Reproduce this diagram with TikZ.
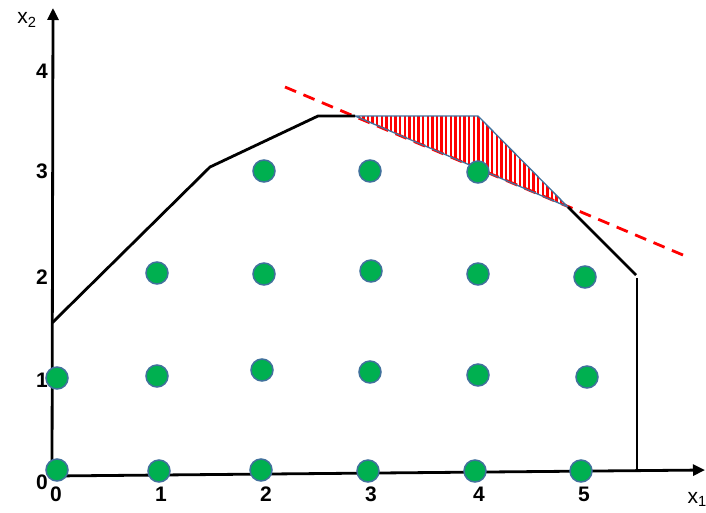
\documentclass[tikz,border=0pt]{standalone}
\usepackage{fontspec}
\setmainfont{Liberation Sans}
\usetikzlibrary{arrows.meta, patterns.meta}
\definecolor{dotgreen}{RGB}{0,176,80}
\definecolor{dotrim}{RGB}{65,113,156}

\begin{document}
\begin{tikzpicture}[
  x=1pt, y=-1pt,
  every node/.style={font=\fontsize{21}{23}\selectfont\bfseries},
  axis/.style={line width=2.8pt, -{Triangle[length=12pt, width=11pt]}},
  border/.style={line width=2.8pt, line join=round},
  cut/.style={red, line width=2.8pt, dash pattern=on 12pt off 8pt},
  hatch/.style={pattern={Lines[angle=90, distance=4.6pt, line width=2.3pt]}, pattern color=red},
  rim/.style={draw=dotrim, line width=1.3pt},
  dot/.style={circle, fill=dotgreen, draw=dotrim, line width=1.5pt, minimum size=22pt, inner sep=0pt},
  axlabel/.style={font=\fontsize{21}{23}\selectfont}
]
\useasboundingbox (0,0) rectangle (706,512);

\coordinate (O) at (52,476);
\coordinate (xend) at (705,470);
\coordinate (yend) at (53,8);
\coordinate (v1) at (52,323);
\coordinate (v2) at (210,167);
\coordinate (v3) at (318,116);
\coordinate (v4) at (355,116);
\coordinate (v5) at (478,116);
\coordinate (v6) at (568,207);
\coordinate (v7) at (636,275);
\coordinate (v8) at (637,278);
\coordinate (v9) at (637,471);
\coordinate (cutA) at (285,87);
\coordinate (cutB) at (690,258);

\fill[hatch] (v4) -- (v5) -- (v6) -- cycle;
\draw[cut] (cutA) -- (cutB);
\draw[rim] (v4) -- (v5) -- (v6) -- cycle;

\draw[border] (v1) -- (v2) -- (v3) -- (v4);
\draw[border] (v6) -- (v7);
\draw[border] (v8) -- (v9);

\draw[axis] (O) -- (xend);
\draw[axis] (O) -- (yend);

\foreach \n/\px/\py in {a0/57/470, a1/159/471, a2/261/470, a3/368/471, a4/475/471, a5/581/471,
                         b0/57/378, b1/157/376, b2/262/370, b3/370/372, b4/478/375, b5/587/377,
                         c1/157/273, c2/264/274, c3/371/271, c4/478/274, c5/585/277,
                         d2/264/171, d3/370/171, d4/478/172}
  \node[dot] (\n) at (\px,\py) {};

\foreach \i/\px in {0/56, 1/161, 2/266, 3/371, 4/479, 5/584}
  \node (lx\i) at (\px,494) {\i};
\foreach \i/\py in {0/482, 1/380, 2/277, 3/171, 4/71}
  \node (ly\i) at (42,\py) {\i};

\node[axlabel, anchor=west] (x1) at (684,499) {x\textsubscript{1}};
\node[axlabel] (x2) at (27,20) {x\textsubscript{2}};
\end{tikzpicture}
\end{document}
